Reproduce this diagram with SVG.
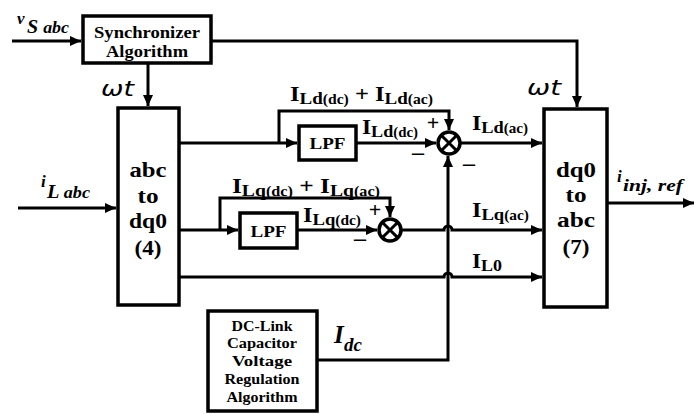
<svg xmlns="http://www.w3.org/2000/svg" width="694" height="414" viewBox="0 0 694 414">
<defs>
<marker id="ah" markerUnits="userSpaceOnUse" markerWidth="12" markerHeight="10" refX="11" refY="5" orient="auto">
<path d="M0,0 L11,5 L0,10 z" fill="#000"/>
</marker>
<style>
.box{fill:#fff;stroke:#000;stroke-width:3.5}
.ln{fill:none;stroke:#000;stroke-width:3}
.sum{fill:#fff;stroke:#000;stroke-width:3.5}
.bt{font-family:'Liberation Serif','DejaVu Serif',serif;font-weight:bold;fill:#000}
.it{font-family:'Liberation Serif','DejaVu Serif',serif;font-weight:bold;font-style:italic;fill:#000}
.wt{font-family:'DejaVu Sans',sans-serif;font-style:italic;fill:#000}
</style>
</defs>
<rect width="694" height="414" fill="#fff"/>

<g id="connectors">
<path class="ln" d="M12,41 H81" marker-end="url(#ah)"/>
<path class="ln" d="M211,41 H577 V107" marker-end="url(#ah)"/>
<path class="ln" d="M148,63 V106" marker-end="url(#ah)"/>
<path class="ln" d="M18,208 H116" marker-end="url(#ah)"/>
<path class="ln" d="M179,143 H297" marker-end="url(#ah)"/>
<path class="ln" d="M356,143 H436" marker-end="url(#ah)"/>
<path class="ln" d="M279,143 V111 H449 V130" marker-end="url(#ah)"/>
<path class="ln" d="M460,143 H542" marker-end="url(#ah)"/>
<path class="ln" d="M179,230 H238" marker-end="url(#ah)"/>
<path class="ln" d="M297,230 H377" marker-end="url(#ah)"/>
<path class="ln" d="M220,230 V198 H390 V217" marker-end="url(#ah)"/>
<path class="ln" d="M401,230 H444 A4,4 0 0 1 452,230 H542" marker-end="url(#ah)"/>
<path class="ln" d="M179,277 H444 A4,4 0 0 1 452,277 H542" marker-end="url(#ah)"/>
<path class="ln" d="M318,360 H448 V156" marker-end="url(#ah)"/>
<path class="ln" d="M607,203 H694" marker-end="url(#ah)"/>
</g>

<g id="sync">
<rect class="box" x="83" y="16" width="128" height="47"/>
<text class="bt" x="147" y="38" font-size="17" text-anchor="middle" textLength="106" lengthAdjust="spacingAndGlyphs">Synchronizer</text>
<text class="bt" x="147" y="57" font-size="17" text-anchor="middle" textLength="82" lengthAdjust="spacingAndGlyphs">Algorithm</text>
</g>

<g id="abc2dq0">
<rect class="box" x="118" y="108" width="61" height="197"/>
<text class="bt" x="148" y="177" font-size="22" text-anchor="middle" textLength="37" lengthAdjust="spacingAndGlyphs">abc</text>
<text class="bt" x="148" y="203" font-size="22" text-anchor="middle" textLength="21" lengthAdjust="spacingAndGlyphs">to</text>
<text class="bt" x="148" y="228" font-size="22" text-anchor="middle" textLength="38" lengthAdjust="spacingAndGlyphs">dq0</text>
<text class="bt" x="148" y="255" font-size="22" text-anchor="middle" textLength="27" lengthAdjust="spacingAndGlyphs">(4)</text>
</g>

<g id="dq02abc">
<rect class="box" x="544" y="109" width="63" height="198"/>
<text class="bt" x="576" y="177" font-size="22" text-anchor="middle" textLength="40" lengthAdjust="spacingAndGlyphs">dq0</text>
<text class="bt" x="576" y="202" font-size="22" text-anchor="middle" textLength="21" lengthAdjust="spacingAndGlyphs">to</text>
<text class="bt" x="576" y="227" font-size="22" text-anchor="middle" textLength="38" lengthAdjust="spacingAndGlyphs">abc</text>
<text class="bt" x="576" y="254" font-size="22" text-anchor="middle" textLength="27" lengthAdjust="spacingAndGlyphs">(7)</text>
</g>

<g id="lpf1">
<rect class="box" x="299" y="126" width="57" height="34"/>
<text class="bt" x="327.5" y="149" font-size="17" text-anchor="middle" textLength="36" lengthAdjust="spacingAndGlyphs">LPF</text>
</g>

<g id="lpf2">
<rect class="box" x="240" y="213" width="57" height="35"/>
<text class="bt" x="268.5" y="237" font-size="17" text-anchor="middle" textLength="36" lengthAdjust="spacingAndGlyphs">LPF</text>
</g>

<g id="sum1">
<circle class="sum" cx="449" cy="143" r="11"/>
<path class="ln" d="M441.2,135.2 L456.8,150.8 M456.8,135.2 L441.2,150.8"/>
</g>

<g id="sum2">
<circle class="sum" cx="390" cy="230" r="11"/>
<path class="ln" d="M382.2,222.2 L397.8,237.8 M397.8,222.2 L382.2,237.8"/>
</g>

<g id="dclink">
<rect class="box" x="208" y="311" width="109" height="100"/>
<text class="bt" x="262" y="331" font-size="14" text-anchor="middle" textLength="61" lengthAdjust="spacingAndGlyphs">DC-Link</text>
<text class="bt" x="262" y="348" font-size="14" text-anchor="middle" textLength="70" lengthAdjust="spacingAndGlyphs">Capacitor</text>
<text class="bt" x="262" y="366" font-size="14" text-anchor="middle" textLength="60" lengthAdjust="spacingAndGlyphs">Voltage</text>
<text class="bt" x="262" y="384" font-size="14" text-anchor="middle" textLength="75" lengthAdjust="spacingAndGlyphs">Regulation</text>
<text class="bt" x="262" y="402" font-size="14" text-anchor="middle" textLength="71" lengthAdjust="spacingAndGlyphs">Algorithm</text>
</g>

<g id="labels">
<text class="it" x="17" y="24" font-size="17">v</text>
<text class="it" x="27" y="33" font-size="19" textLength="42" lengthAdjust="spacingAndGlyphs">S <tspan font-size="17">abc</tspan></text>
<text class="it" x="41" y="187" font-size="17">i</text>
<text class="it" x="47" y="198" font-size="19" textLength="43" lengthAdjust="spacingAndGlyphs">L <tspan font-size="17">abc</tspan></text>
<text class="it" x="617" y="182" font-size="17">i</text>
<text class="it" x="623" y="191" font-size="17" textLength="60" lengthAdjust="spacingAndGlyphs">inj, ref</text>
<text class="it" x="334" y="343" font-size="25">I</text>
<text class="it" x="344" y="351" font-size="19">dc</text>
<text class="wt" x="101" y="96" font-size="21" textLength="33" lengthAdjust="spacingAndGlyphs">ωt</text>
<text class="wt" x="527" y="95" font-size="21" textLength="34" lengthAdjust="spacingAndGlyphs">ωt</text>

<text class="bt" x="290" y="101" font-size="22" textLength="143" lengthAdjust="spacingAndGlyphs">I<tspan font-size="17" dy="3">Ld</tspan><tspan font-size="14">(dc)</tspan><tspan dy="-3"> + I</tspan><tspan font-size="17" dy="3">Ld</tspan><tspan font-size="14">(ac)</tspan></text>
<text class="bt" x="362" y="134" font-size="22" textLength="56" lengthAdjust="spacingAndGlyphs">I<tspan font-size="17" dy="3">Ld</tspan><tspan font-size="14">(dc)</tspan></text>
<text class="bt" x="472" y="130" font-size="22" textLength="56" lengthAdjust="spacingAndGlyphs">I<tspan font-size="17" dy="3">Ld</tspan><tspan font-size="14">(ac)</tspan></text>
<text class="bt" x="232" y="193" font-size="22" textLength="148" lengthAdjust="spacingAndGlyphs">I<tspan font-size="17" dy="3">Lq</tspan><tspan font-size="14">(dc)</tspan><tspan dy="-3"> + I</tspan><tspan font-size="17" dy="3">Lq</tspan><tspan font-size="14">(ac)</tspan></text>
<text class="bt" x="303" y="222" font-size="22" textLength="58" lengthAdjust="spacingAndGlyphs">I<tspan font-size="17" dy="3">Lq</tspan><tspan font-size="14">(dc)</tspan></text>
<text class="bt" x="472" y="217" font-size="22" textLength="57" lengthAdjust="spacingAndGlyphs">I<tspan font-size="17" dy="3">Lq</tspan><tspan font-size="14">(ac)</tspan></text>
<text class="bt" x="472" y="268" font-size="22" textLength="30" lengthAdjust="spacingAndGlyphs">I<tspan font-size="17" dy="3">L0</tspan></text>

<text class="bt" x="433" y="130" font-size="22" text-anchor="middle">+</text>
<text class="bt" x="418" y="160" font-size="24" text-anchor="middle">–</text>
<text class="bt" x="469" y="171" font-size="24" text-anchor="middle">–</text>
<text class="bt" x="375" y="217" font-size="22" text-anchor="middle">+</text>
<text class="bt" x="360" y="246" font-size="24" text-anchor="middle">–</text>
</g>
</svg>
